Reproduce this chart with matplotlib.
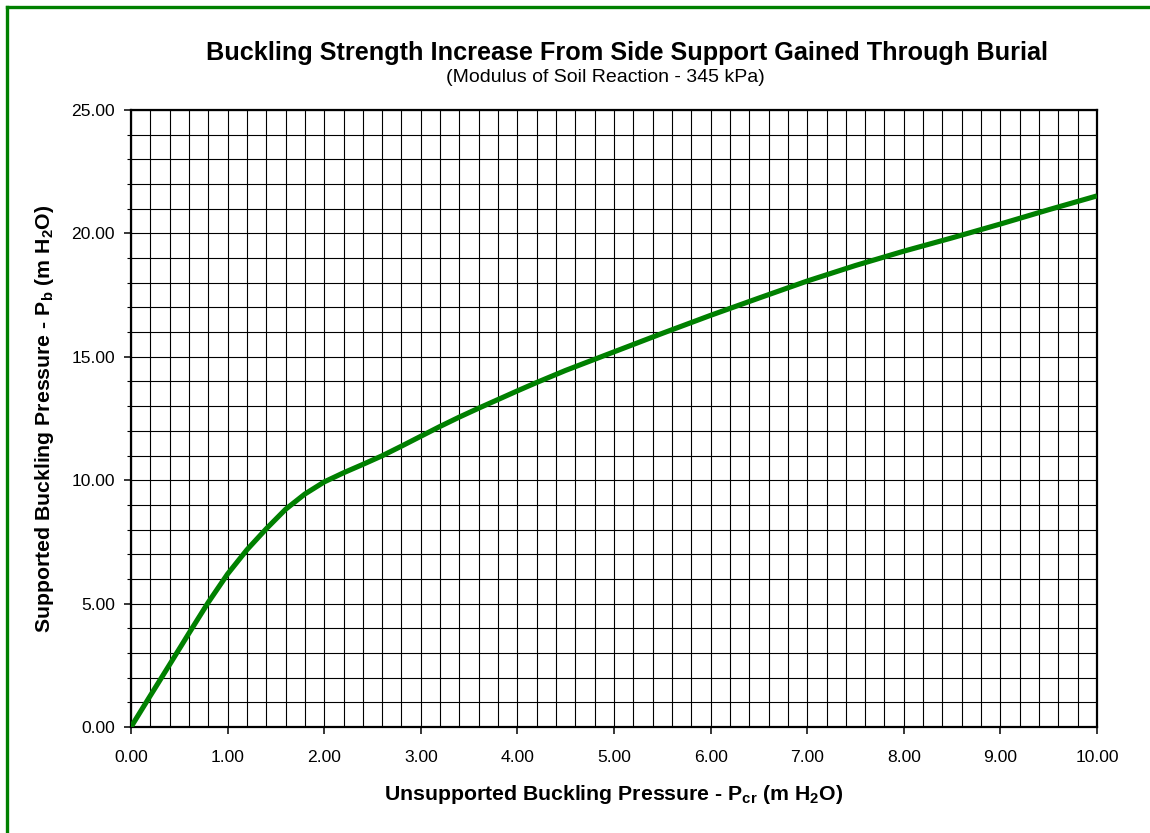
import numpy as np
import matplotlib
matplotlib.use("Agg")
import matplotlib.pyplot as plt
from matplotlib.lines import Line2D
from matplotlib.ticker import MultipleLocator, FormatStrFormatter

plt.rcParams['font.family'] = ['Liberation Sans', 'DejaVu Sans']
plt.rcParams['mathtext.fontset'] = 'custom'
plt.rcParams['mathtext.rm'] = 'Liberation Sans'
plt.rcParams['mathtext.bf'] = 'Liberation Sans:bold'

# curve (unsupported vs supported buckling pressure, m H2O)
p_cr = [0.0, 0.2, 0.4, 0.6, 0.8, 1.0, 1.2, 1.4, 1.6, 1.8, 2.0, 2.2, 2.4, 2.6,
        2.8, 3.0, 3.2, 3.4, 3.6, 3.8, 4.0, 4.2, 4.5, 5.0, 5.5, 6.0, 6.5, 7.0,
        7.5, 8.0, 8.5, 9.0, 9.5, 10.0]
p_b = [0.0, 1.27, 2.53, 3.80, 5.05, 6.20, 7.18, 8.03, 8.82, 9.44, 9.93, 10.30,
       10.64, 10.99, 11.38, 11.78, 12.18, 12.56, 12.92, 13.27, 13.62, 13.96,
       14.45, 15.20, 15.95, 16.68, 17.38, 18.07, 18.70, 19.28, 19.82, 20.38,
       20.96, 21.52]

W, H = 1150, 833
fig = plt.figure(figsize=(W / 100, H / 100), dpi=100)
ax = fig.add_axes([131 / W, 1 - 727 / H, (1097 - 131) / W, (727 - 110) / H])

ax.plot(p_cr, p_b, color='#008000', linewidth=3.7, solid_capstyle='butt',
        solid_joinstyle='round', zorder=3)

ax.set_xlim(0, 10)
ax.set_ylim(0, 25)
ax.xaxis.set_major_locator(MultipleLocator(1))
ax.xaxis.set_minor_locator(MultipleLocator(0.2))
ax.yaxis.set_major_locator(MultipleLocator(5))
ax.yaxis.set_minor_locator(MultipleLocator(1))
ax.xaxis.set_major_formatter(FormatStrFormatter('%.2f'))
ax.yaxis.set_major_formatter(FormatStrFormatter('%.2f'))

ax.grid(which='both', color='black', linewidth=0.8)
ax.set_axisbelow(True)
ax.tick_params(which='major', direction='out', length=5, width=1.1, labelsize=12.6)
ax.tick_params(axis='x', which='major', pad=11.5)
ax.tick_params(axis='y', which='major', pad=6.5)
ax.tick_params(axis='x', which='minor', length=0)
ax.tick_params(axis='y', which='minor', direction='out', length=3, width=0.8)
for s in ax.spines.values():
    s.set_linewidth(1.6)

ax.set_xlabel(r'Unsupported Buckling Pressure - P$_{\mathbf{cr}}$ (m H$_{\mathbf{2}}$O)',
              fontsize=15.3, fontweight='bold', va='center')
ax.set_ylabel(r'Supported Buckling Pressure - P$_{\mathbf{b}}$ (m H$_{\mathbf{2}}$O)',
              fontsize=15.3, fontweight='bold', va='center')
ax.xaxis.set_label_coords(0.5, (727 - 795) / 617)
ax.yaxis.set_label_coords((45 - 131) / 966, 0.5)

fig.text(627 / W, 1 - 53 / H, 'Buckling Strength Increase From Side Support Gained Through Burial',
         ha='center', va='center', fontsize=18.2, fontweight='bold')
fig.text(605 / W, 1 - 78 / H, '(Modulus of Soil Reaction - 345 kPa)',
         ha='center', va='center', fontsize=14)

# green frame (left and top edges visible)
fig.add_artist(Line2D([7 / W, 7 / W], [0, 1 - 7 / H], transform=fig.transFigure,
                      color='#008000', linewidth=2.4, solid_capstyle='projecting'))
fig.add_artist(Line2D([7 / W, 1], [1 - 7 / H, 1 - 7 / H], transform=fig.transFigure,
                      color='#008000', linewidth=2.4, solid_capstyle='projecting'))

fig.savefig('out.png', dpi=100)
